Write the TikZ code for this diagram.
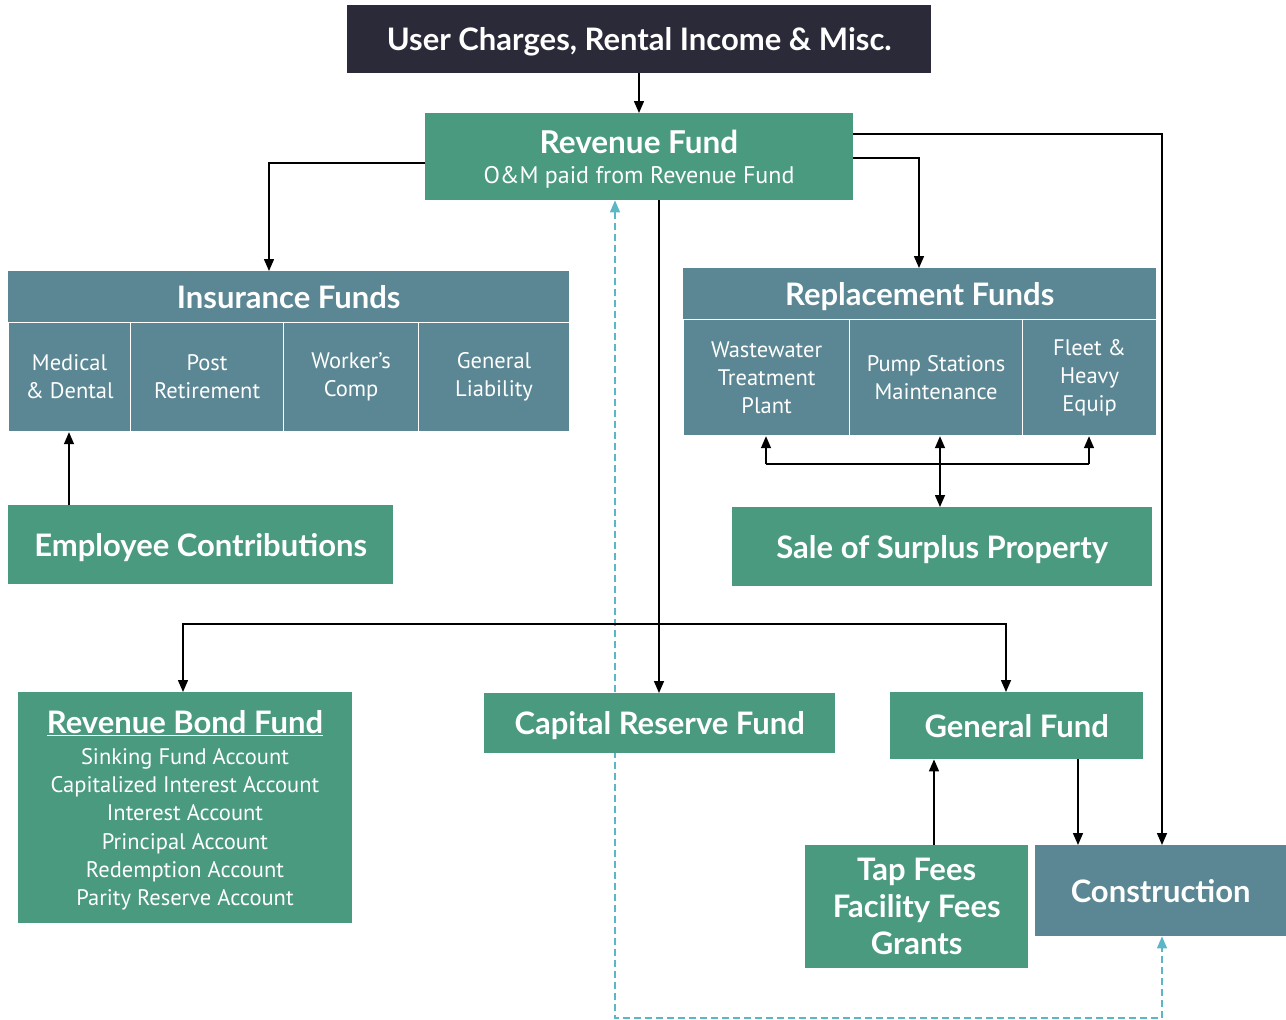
\documentclass[tikz,border=0pt]{standalone}
\usepackage{fontspec}
\setmainfont{Lato}
\newfontfamily\subf{PT Sans}
\usetikzlibrary{arrows.meta,backgrounds}
\definecolor{grn}{HTML}{4A9A80}
\definecolor{slt}{HTML}{5A8793}
\definecolor{drk}{HTML}{2B2A38}
\definecolor{cyn}{HTML}{5BB7C5}
\tikzset{
  box/.style={fill=#1, draw=none, inner sep=0pt, anchor=north west, text=white, align=center},
  cell/.style={fill=slt, draw=white, line width=1.2pt, inner sep=0pt, anchor=north west, text=white, align=center, font=\subf\fontsize{22.5}{28}\selectfont},
  hd/.style={font=\bfseries\fontsize{31}{36}\selectfont, text depth=0pt},
  conn/.style={draw=black, line width=1.5pt, -{Triangle[width=10pt,length=12pt]}},
  plain/.style={draw=black, line width=1.5pt},
  both/.style={draw=black, line width=1.5pt, {Triangle[width=10pt,length=12pt]}-{Triangle[width=10pt,length=12pt]}},
  dsh/.style={draw=cyn, line width=1.5pt, dash pattern=on 7pt off 4pt, {Triangle[width=10pt,length=12pt]}-{Triangle[width=10pt,length=12pt]}}
}
\begin{document}
\begin{tikzpicture}[x=1pt,y=-1pt]
\useasboundingbox (0,0) rectangle (1286,1020);

% top
\node[box=drk, hd, minimum width=584, minimum height=68] (user) at (347,5) {User Charges, Rental Income \& Misc.};
\node[box=grn, minimum width=428, minimum height=87] (rev) at (425,113) {};
\node[text=white, font=\bfseries\fontsize{31.5}{36}\selectfont, inner sep=0pt] (revt) at (639,142) {Revenue Fund};
\node[text=white, font=\subf\fontsize{24}{28}\selectfont, inner sep=0pt] (revs) at (639,177) {O\&M paid from Revenue Fund};

% insurance
\node[box=slt, hd, minimum width=561, minimum height=51] (ins) at (8,271) {Insurance Funds};
\node[cell, minimum width=122, minimum height=109] (med) at (8,322) {Medical\\\& Dental};
\node[cell, minimum width=153, minimum height=109] (post) at (130,322) {Post\\Retirement};
\node[cell, minimum width=135, minimum height=109] (work) at (283,322) {Worker’s\\Comp};
\node[cell, minimum width=151, minimum height=109] (gen) at (418,322) {General\\Liability};

% replacement
\node[box=slt, hd, minimum width=473, minimum height=51] (rep) at (683,268) {Replacement Funds};
\node[cell, minimum width=166, minimum height=116] (wwt) at (683,319) {Wastewater\\Treatment\\Plant};
\node[cell, minimum width=173, minimum height=116] (pump) at (849,319) {Pump Stations\\Maintenance};
\node[cell, minimum width=134, minimum height=116] (fleet) at (1022,319) {Fleet \&\\Heavy\\Equip};

% middle
\node[box=grn, hd, minimum width=385, minimum height=79] (emp) at (8,505) {Employee Contributions};
\node[box=grn, hd, minimum width=420, minimum height=79] (sale) at (732,507) {Sale of Surplus Property};

% bottom
\node[box=grn, minimum width=334, minimum height=231] (bond) at (18,692) {};
\node[text=white, font=\bfseries\fontsize{31}{34}\selectfont, inner sep=0pt] (bondt) at (185,723) {\underline{Revenue Bond Fund}};
\node[text=white, align=center, inner sep=0pt, anchor=north, font=\subf\fontsize{22.5}{28.3}\selectfont] (bonds) at (185,748) {Sinking Fund Account\\Capitalized Interest Account\\Interest Account\\Principal Account\\Redemption Account\\Parity Reserve Account};
\node[box=grn, hd, minimum width=351, minimum height=60] (cap) at (484,693) {Capital Reserve Fund};
\node[box=grn, hd, minimum width=253, minimum height=67] (gf) at (890,692) {General Fund};
\node[box=grn, minimum width=223, minimum height=123, font=\bfseries\fontsize{31}{37}\selectfont] (tap) at (805,845) {Tap Fees\\Facility Fees\\Grants};
\node[box=slt, hd, minimum width=251, minimum height=91] (cons) at (1035,845) {Construction};

% connectors
\draw[conn] (user.south -| 639,0) -- (rev.north -| 639,0);
\draw[conn] (rev.west |- 0,163) -| (ins.north -| 269,0);
\draw[conn] (rev.east |- 0,158) -| (rep.north -| 919,0);
\draw[conn] (rev.east |- 0,134) -| (cons.north -| 1162,0);
\draw[conn] (emp.north -| 69,0) -- (med.south -| 69,0);

\coordinate (hub) at (940,464);
\coordinate (hl) at (766,464);
\coordinate (hr) at (1089,464);
\draw[both] (pump.south -| hub) -- (sale.north -| hub);
\draw[plain] (hl) -- (hr);
\draw[conn] (hl) -- (wwt.south -| hl);
\draw[conn] (hr) -- (fleet.south -| hr);

\draw[conn] (rev.south -| 659,0) -- (cap.north -| 659,0);
\coordinate (split) at (659,624);
\draw[conn] (split) -| (bond.north -| 183,0);
\draw[conn] (split) -| (gf.north -| 1006,0);

\draw[conn] (tap.north -| 934,0) -- (gf.south -| 934,0);
\draw[conn] (gf.south -| 1078,0) -- (cons.north -| 1078,0);

\coordinate (dl) at (615,1018);
\coordinate (dr) at (1162,1018);
\begin{scope}[on background layer]
\draw[dsh] (rev.south -| 615,0) -- (dl) -- (dr) -- (cons.south -| 1162,0);
\end{scope}
\end{tikzpicture}
\end{document}
